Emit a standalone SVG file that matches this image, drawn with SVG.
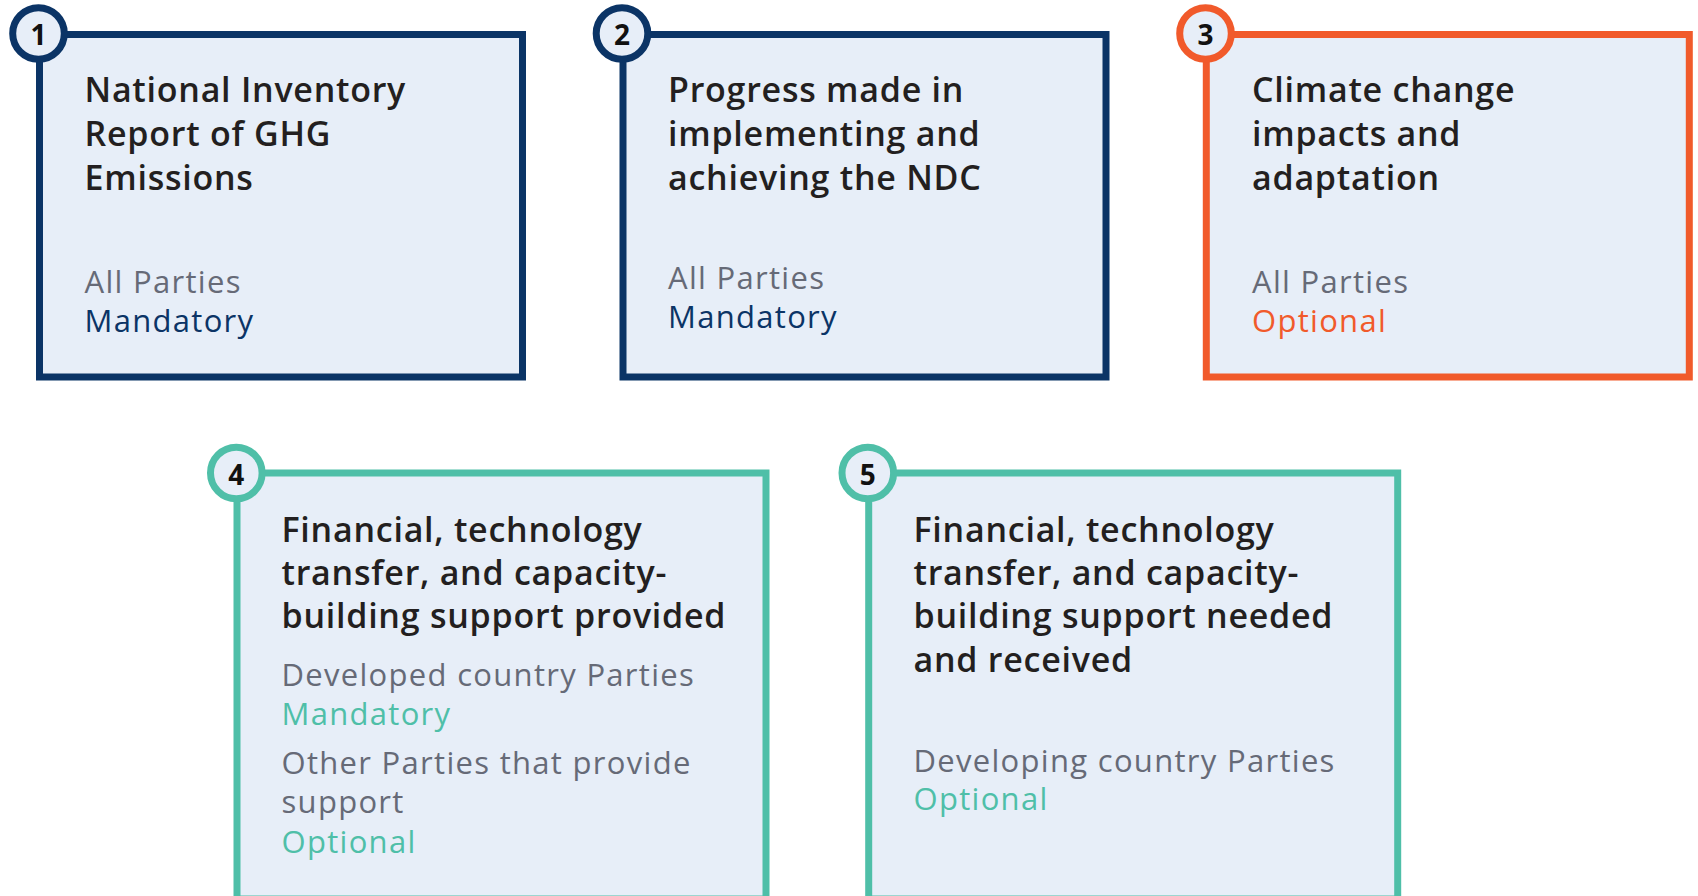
<svg xmlns="http://www.w3.org/2000/svg" width="1698" height="896" viewBox="0 0 1698 896">
<style>
  .box { fill: #E7EEF8; stroke-width: 7; }
  .badge { fill: #E7EEF8; stroke-width: 7; }
  .navy { stroke: #0B3466; }
  .orange { stroke: #F15A2B; }
  .teal { stroke: #4FBFA8; }
  .num { font-family: "Open Sans", "Liberation Sans", sans-serif; font-weight: 700; font-size: 28px; fill: #111111; text-anchor: middle; dominant-baseline: central; }
  .title { font-family: "Open Sans", "Liberation Sans", sans-serif; font-weight: 600; font-size: 34px; letter-spacing: 0.75px; fill: #231F20; }
  .sub { font-family: "Open Sans", "Liberation Sans", sans-serif; font-weight: 400; font-size: 31px; letter-spacing: 1.3px; fill: #666A77; }
  .t-navy { fill: #0B3466; }
  .t-orange { fill: #F15A2B; }
  .t-teal { fill: #4FBFA8; }
</style>
<rect x="0" y="0" width="1698" height="896" fill="#FFFFFF"/>
<g id="connectors"></g>

<g id="node1">
  <rect class="box navy" x="39.5" y="34.5" width="483" height="342.5"/>
  <circle class="badge navy" cx="38.5" cy="33.5" r="25.8"/>
  <text class="num" x="38.5" y="34">1</text>
  <text class="title" x="84.5" y="101.7">National Inventory</text>
  <text class="title" x="84.5" y="145.7">Report of GHG</text>
  <text class="title" x="84.5" y="189.5">Emissions</text>
  <text class="sub" x="84.5" y="293.3">All Parties</text>
  <text class="sub t-navy" x="84.5" y="332.3">Mandatory</text>
</g>

<g id="node2">
  <rect class="box navy" x="623" y="34.5" width="483" height="342.5"/>
  <circle class="badge navy" cx="622" cy="33.5" r="25.8"/>
  <text class="num" x="622" y="34">2</text>
  <text class="title" x="668" y="101.7">Progress made in</text>
  <text class="title" x="668" y="145.7">implementing and</text>
  <text class="title" x="668" y="189.5">achieving the NDC</text>
  <text class="sub" x="668" y="289.3">All Parties</text>
  <text class="sub t-navy" x="668" y="328.3">Mandatory</text>
</g>

<g id="node3">
  <rect class="box orange" x="1206.3" y="34.5" width="483" height="342.5"/>
  <circle class="badge orange" cx="1205.5" cy="33.5" r="25.8"/>
  <text class="num" x="1205.5" y="34">3</text>
  <text class="title" x="1252" y="101.7">Climate change</text>
  <text class="title" x="1252" y="145.7">impacts and</text>
  <text class="title" x="1252" y="189.5">adaptation</text>
  <text class="sub" x="1252" y="293.3">All Parties</text>
  <text class="sub t-orange" x="1252" y="332.3">Optional</text>
</g>

<g id="node4">
  <rect class="box teal" x="237" y="473" width="529" height="426"/>
  <circle class="badge teal" cx="236.3" cy="473" r="25.8"/>
  <text class="num" x="236.3" y="473.5">4</text>
  <text class="title" x="281.5" y="541.7">Financial, technology</text>
  <text class="title" x="281.5" y="585">transfer, and capacity-</text>
  <text class="title" x="281.5" y="628.3">building support provided</text>
  <text class="sub" x="281.5" y="686">Developed country Parties</text>
  <text class="sub t-teal" x="281.5" y="725">Mandatory</text>
  <text class="sub" x="281.5" y="774.3">Other Parties that provide</text>
  <text class="sub" x="281.5" y="813.3">support</text>
  <text class="sub t-teal" x="281.5" y="852.7">Optional</text>
</g>

<g id="node5">
  <rect class="box teal" x="868.7" y="473" width="529" height="426"/>
  <circle class="badge teal" cx="867.8" cy="473" r="25.8"/>
  <text class="num" x="867.8" y="473.5">5</text>
  <text class="title" x="913.5" y="541.7">Financial, technology</text>
  <text class="title" x="913.5" y="585">transfer, and capacity-</text>
  <text class="title" x="913.5" y="628.3">building support needed</text>
  <text class="title" x="913.5" y="671.5">and received</text>
  <text class="sub" x="913.5" y="771.7">Developing country Parties</text>
  <text class="sub t-teal" x="913.5" y="810">Optional</text>
</g>
</svg>
